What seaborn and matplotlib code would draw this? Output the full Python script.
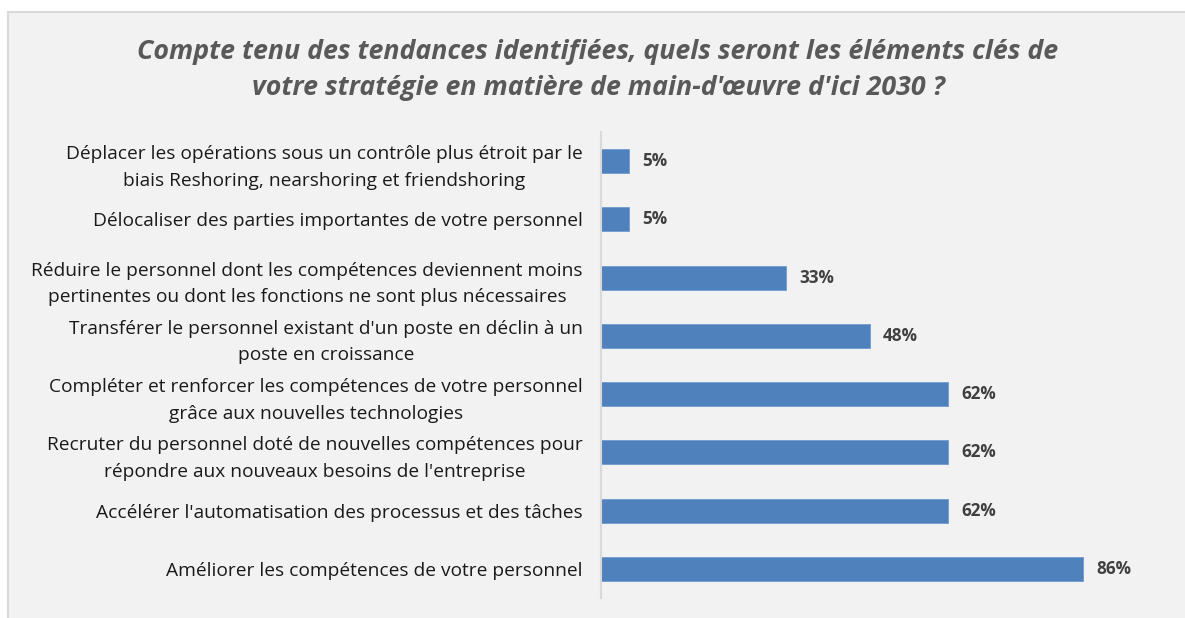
import matplotlib
matplotlib.use("Agg")
import matplotlib.pyplot as plt
from matplotlib.patches import Rectangle
import seaborn as sns
import pandas as pd

# Data
categories = [
    "Déplacer les opérations sous un contrôle plus étroit par le\nbiais Reshoring, nearshoring et friendshoring",
    "Délocaliser des parties importantes de votre personnel",
    "Réduire le personnel dont les compétences deviennent moins\npertinentes ou dont les fonctions ne sont plus nécessaires",
    "Transférer le personnel existant d'un poste en déclin à un\nposte en croissance",
    "Compléter et renforcer les compétences de votre personnel\ngrâce aux nouvelles technologies",
    "Recruter du personnel doté de nouvelles compétences pour\nrépondre aux nouveaux besoins de l'entreprise",
    "Accélérer l'automatisation des processus et des tâches",
    "Améliorer les compétences de votre personnel",
]
values = [5, 5, 33, 48, 62, 62, 62, 86]
title = ("Compte tenu des tendances identifiées, quels seront les éléments clés de\n"
         "votre stratégie en matière de main-d'œuvre d'ici 2030 ?")

df = pd.DataFrame({"cat": categories, "val": values})

sns.set_style("white")
plt.rcParams["font.family"] = ["Open Sans", "DejaVu Sans"]

bg = "#f2f2f2"
fig = plt.figure(figsize=(11.85, 6.18), dpi=100, facecolor="white")
fig.patches.append(Rectangle((8 / 1185, -0.2), 1.5, 0.2 + (618 - 12) / 618, transform=fig.transFigure,
                             facecolor=bg, edgecolor="#d9d9d9", linewidth=1.5, zorder=-10))

ax = fig.add_axes([601 / 1185, 20 / 618, 560 / 1185, 466 / 618])
ax.set_facecolor("none")
sns.barplot(data=df, x="val", y="cat", color="#4f81bd", width=0.41, ax=ax,
            saturation=1, edgecolor="#6f9ad0", linewidth=0.6)

ax.set_xlim(0, 100)
ax.set_xlabel("")
ax.set_ylabel("")
ax.set_xticks([])
for s in ["top", "right", "bottom"]:
    ax.spines[s].set_visible(False)
ax.spines["left"].set_color("#d9d9d9")
ax.spines["left"].set_linewidth(1.5)
ax.tick_params(axis="y", length=0, pad=13, labelsize=13.8, labelcolor="#1a1a1a")
for lbl in ax.get_yticklabels():
    lbl.set_horizontalalignment("right")
    lbl.set_multialignment("center")
    lbl.set_linespacing(1.6)

for i, v in enumerate(values):
    ax.text(v + 2.4, i, f"{v}%", va="center", ha="left", fontsize=12.3,
            fontweight="bold", color="#404040")

fig.text(598 / 1185, 1 - 70 / 618, title, ha="center", va="center", fontsize=19.3,
         fontstyle="italic", fontweight="bold", color="#595959", linespacing=1.5)

fig.savefig("out.png", dpi=100, facecolor="white")
